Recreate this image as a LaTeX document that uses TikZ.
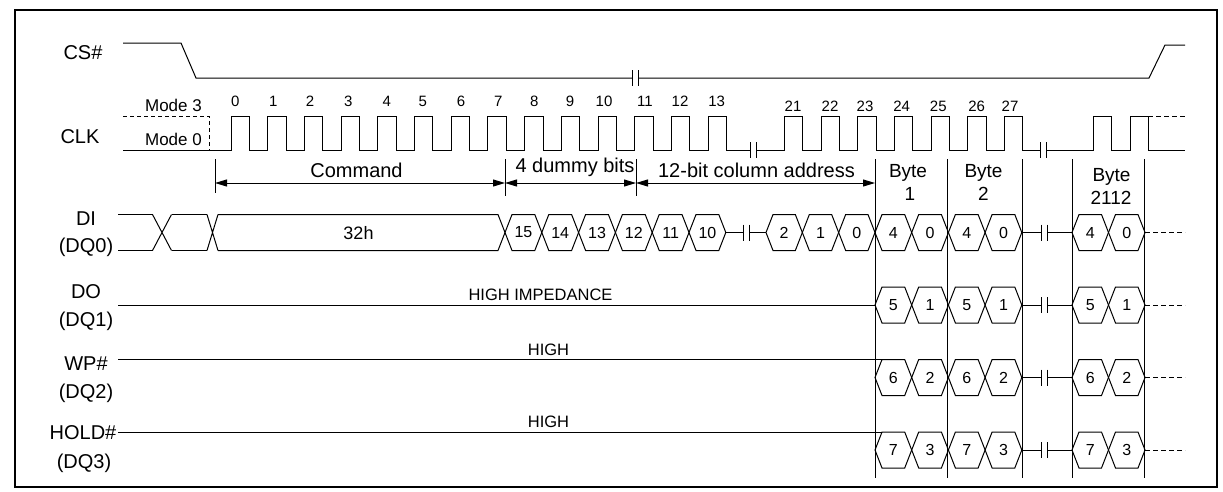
\documentclass[tikz,border=0pt]{standalone}
\usepackage{fontspec}
\setmainfont{Liberation Sans}
\usetikzlibrary{arrows.meta}
\newcommand\fsz[1]{\fontsize{#1}{#1}\selectfont}
\tikzset{
  wave/.style={line width=1pt, line join=miter},
  sig/.style={font=\fsz{20}, inner sep=0pt, anchor=base},
  dimlbl/.style={font=\fsz{20}, inner sep=0pt, anchor=base},
  bytelbl/.style={font=\fsz{19}, inner sep=0pt, anchor=base},
  modelbl/.style={font=\fsz{17}, inner sep=0pt, anchor=base east},
  clknum/.style={font=\fsz{15}, inner sep=0pt, anchor=base},
  hexnum/.style={font=\fsz{16}, inner sep=0pt},
  statelbl/.style={font=\fsz{16.5}, inner sep=0pt, anchor=base},
  dimarrow/.style={line width=1pt, {Triangle[length=12pt,width=7pt]}-{Triangle[length=12pt,width=7pt]}},
  dashwave/.style={line width=1pt, dash pattern=on 5pt off 3pt},
}
\newcommand\hexcells[6]{%
  \foreach \lab [count=\k from 0] in {#6} {
    \pgfmathsetmacro\xa{#3+\k*#4}
    \pgfmathsetmacro\xb{#3+(\k+1)*#4}
    \pgfmathsetmacro\xm{(\xa+\xb)/2}
    \draw[wave] (\xa,#2) -- (\xa+7,#2-#5) -- (\xb-7,#2-#5) -- (\xb,#2) -- (\xb-7,#2+#5) -- (\xa+7,#2+#5) -- cycle;
    \node[hexnum] (#1\k) at (\xm,#2) {\lab};
  }}
\newcommand\brkmark[3]{%
  \draw[wave] (#1,#3-8) -- (#1,#3+8) (#2,#3-8) -- (#2,#3+8);}
\begin{document}
\begin{tikzpicture}[x=1pt,y=-1pt]
\useasboundingbox (0,0) rectangle (1223,491);
\draw[line width=1.2pt] (15,10) rectangle (1217,487);

% signal labels
\node[sig] (lcs) at (83,59) {CS\#};
\node[sig] (lclk) at (80,143) {CLK};
\node[sig] (ldi) at (86,225) {DI};
\node[sig] (ldq0) at (86,252) {(DQ0)};
\node[sig] (ldo) at (86,298) {DO};
\node[sig] (ldq1) at (86,326) {(DQ1)};
\node[sig] (lwp) at (86,370) {WP\#};
\node[sig] (ldq2) at (86,398) {(DQ2)};
\node[sig] (lhold) at (83,439) {HOLD\#};
\node[sig] (ldq3) at (84,468) {(DQ3)};

% CS#
\draw[wave] (123,43) -- (181,43) -- (196,78) -- (632,78);
\brkmark{632}{638}{78}
\draw[wave] (638,78) -- (1149,78) -- (1165,45) -- (1185,45);

% CLK
\node[modelbl] (m3) at (202,111) {Mode 3};
\node[modelbl] (m0) at (202,145) {Mode 0};
\draw[line width=1pt, dash pattern=on 4pt off 3pt] (123,116) -- (209,116) -- (209,150);
\draw[wave] (123,150) -- (231,150)
  \foreach \k in {0,...,13} { -- ({231+36.7*\k},150) -- ({231+36.7*\k},116) -- ({249.4+36.7*\k},116) -- ({249.4+36.7*\k},150) }
  -- (750,150);
\brkmark{750}{756}{150}
\draw[wave] (756,150) -- (784.3,150)
  \foreach \k in {0,...,6} { -- ({784.3+36.7*\k},150) -- ({784.3+36.7*\k},116) -- ({802.7+36.7*\k},116) -- ({802.7+36.7*\k},150) }
  -- (1040,150);
\brkmark{1040}{1046}{150}
\draw[wave] (1046,150) -- (1093,150) -- (1093,116) -- (1111.5,116) -- (1111.5,150) -- (1130,150) -- (1130,116) -- (1148,116) -- (1148,150) -- (1185,150);
\draw[dashwave] (1148,116) -- (1185,116);
\foreach \lab/\x in {0/235.3,1/273.3,2/310,3/348.3,4/386.7,5/422.7,6/461,7/498.3,8/534.3,9/570,10/604,11/645,12/680,13/716.7}
  \node[clknum] (n\lab) at (\x,106) {\lab};
\foreach \lab/\x in {21/793,22/830,23/865,24/901.7,25/938.3,26/976.7,27/1010}
  \node[clknum] (n\lab) at (\x,111) {\lab};

% dimension ticks and arrows
\draw[wave] (215,159) -- (215,193);
\draw[wave] (505,159) -- (505,196);
\draw[wave] (636,159) -- (636,196);
\foreach \x in {875,947.7,1022,1072.5,1144.5}
  \draw[wave] (\x,159) -- (\x,478);
\coordinate (t0) at (215,183);
\coordinate (t1) at (505,183);
\coordinate (t2) at (636,183);
\coordinate (t3) at (875,183);
\draw[dimarrow] (t0) -- (t1);
\draw[dimarrow] (t1) -- (t2);
\draw[dimarrow] (t2) -- (t3);
\node[dimlbl] (cmd) at (356.5,177) {Command};
\node[dimlbl] (dummy) at (575,172) {4 dummy bits};
\node[dimlbl] (col) at (756.5,177) {12-bit column address};
\node[bytelbl] (b1a) at (908,177) {Byte};
\node[bytelbl] (b1b) at (910,200) {1};
\node[bytelbl] (b2a) at (983.5,177) {Byte};
\node[bytelbl] (b2b) at (983.5,200) {2};
\node[bytelbl] (b3a) at (1111.5,181) {Byte};
\node[bytelbl] (b3b) at (1111,204) {2112};

% DI row
\draw[wave] (118,214.5) -- (152.5,214.5) (118,250.5) -- (152.5,250.5);
\draw[wave] (152.5,214.5) -- (171.5,250.5) (152.5,250.5) -- (171.5,214.5);
\draw[wave] (171.5,214.5) -- (207,214.5) (171.5,250.5) -- (207,250.5);
\draw[wave] (207,214.5) -- (218,250.5) (207,250.5) -- (218,214.5);
\draw[wave] (218,214.5) -- (498,214.5) -- (505,232.5) -- (498,250.5) -- (218,250.5);
\node[font=\fsz{18}, inner sep=0pt] (d32) at (358.5,233) {32h};
\hexcells{dia}{232.5}{505}{36.8}{18}{15,14,13,12,11,10}
\draw[wave] (725.8,232.5) -- (743,232.5);
\brkmark{743}{749}{232.5}
\draw[wave] (749,232.5) -- (766,232.5);
\hexcells{dib}{232.5}{766}{36.33}{18}{2,1,0}
\hexcells{dic}{232.5}{875}{36.7}{18}{4,0,4,0}
\draw[wave] (1021.8,232.5) -- (1041,232.5);
\brkmark{1041}{1047}{232.5}
\draw[wave] (1047,232.5) -- (1072,232.5);
\hexcells{did}{232.5}{1072}{36.5}{18}{4,0}
\draw[dashwave] (1145,232.5) -- (1185,232.5);

% DO row
\draw[wave] (118,305) -- (875,305);
\node[statelbl] (hiz) at (540.5,300.5) {HIGH IMPEDANCE};
\hexcells{doa}{305}{875}{36.7}{18}{5,1,5,1}
\draw[wave] (1021.8,305) -- (1041,305);
\brkmark{1041}{1047}{305}
\draw[wave] (1047,305) -- (1072,305);
\hexcells{dob}{305}{1072}{36.5}{18}{5,1}
\draw[dashwave] (1145,305) -- (1185,305);

% WP# row
\draw[wave] (118,359.5) -- (882,359.5);
\node[statelbl] (hwp) at (548.5,355) {HIGH};
\hexcells{wpa}{377.5}{875}{36.7}{18}{6,2,6,2}
\draw[wave] (1021.8,377.5) -- (1041,377.5);
\brkmark{1041}{1047}{377.5}
\draw[wave] (1047,377.5) -- (1072,377.5);
\hexcells{wpb}{377.5}{1072}{36.5}{18}{6,2}
\draw[dashwave] (1145,377.5) -- (1185,377.5);

% HOLD# row
\draw[wave] (118,432) -- (882,432);
\node[statelbl] (hho) at (548.5,427.5) {HIGH};
\hexcells{hoa}{450}{875}{36.7}{18}{7,3,7,3}
\draw[wave] (1021.8,450) -- (1041,450);
\brkmark{1041}{1047}{450}
\draw[wave] (1047,450) -- (1072,450);
\hexcells{hob}{450}{1072}{36.5}{18}{7,3}
\draw[dashwave] (1145,450) -- (1185,450);
\end{tikzpicture}
\end{document}
